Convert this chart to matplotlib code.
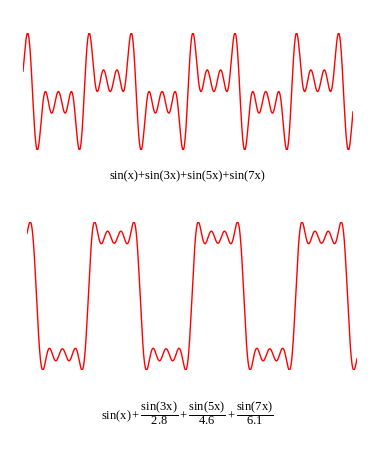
import matplotlib

matplotlib.use("Agg")
import matplotlib.pyplot as plt
import numpy as np

# Fourier partial sums of a square wave, x in [-10, 10]
X_RANGE = (-10.0, 10.0)
HARMONICS = [1, 3, 5, 7]
DIV_TOP = [1.0, 1.0, 1.0, 1.0]
DIV_BOTTOM = [1.0, 2.8, 4.6, 6.1]
LABEL_TOP = "sin(x)+sin(3x)+sin(5x)+sin(7x)"
LABEL_BOTTOM = (r"$\mathrm{sin(x)}+\dfrac{\mathrm{sin(3x)}}{\mathrm{2.8}}"
                r"+\dfrac{\mathrm{sin(5x)}}{\mathrm{4.6}}"
                r"+\dfrac{\mathrm{sin(7x)}}{\mathrm{6.1}}$")

plt.rcParams["font.family"] = "Liberation Serif"
plt.rcParams["mathtext.fontset"] = "custom"
plt.rcParams["mathtext.rm"] = "Liberation Serif"
plt.rcParams["mathtext.it"] = "Liberation Serif:italic"

W, H = 387, 453


def partial_sum(x, divs):
    return sum(np.sin(k * x) / d for k, d in zip(HARMONICS, divs))


def add_panel(fig, left, top, right, bottom, divs):
    ax = fig.add_axes([left / W, 1 - bottom / H, (right - left) / W, (bottom - top) / H])
    x = np.linspace(*X_RANGE, 2000)
    y = partial_sum(x, divs)
    ax.plot(x, y, color="red", lw=1.0)
    ax.set_xlim(*X_RANGE)
    ax.set_ylim(y.min(), y.max())
    ax.axis("off")
    return ax


fig = plt.figure(figsize=(W / 100, H / 100), dpi=100)
add_panel(fig, 23, 33, 353, 150, DIV_TOP)
add_panel(fig, 27, 222, 357, 370, DIV_BOTTOM)

fig.text(187 / W, 1 - 176 / H, LABEL_TOP, ha="center", va="center", fontsize=9)
fig.text(187 / W, 1 - 413 / H, LABEL_BOTTOM, ha="center", va="center", fontsize=9)

fig.savefig("out.png", dpi=100)
